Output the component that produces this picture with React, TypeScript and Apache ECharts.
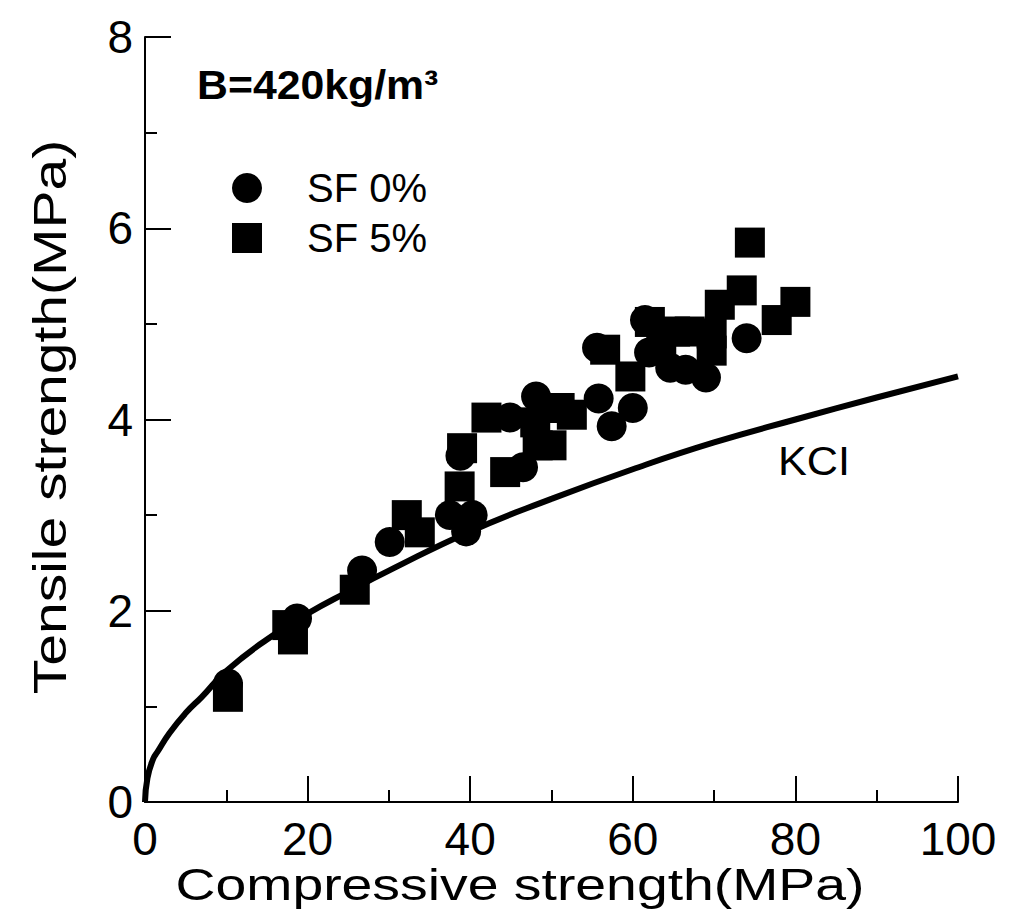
import React, { useEffect, useRef } from "react";
import * as echarts from "echarts";

const xTicks = [0, 20, 40, 60, 80, 100];
const yTicks = [0, 2, 4, 6, 8];

// SF 0% (circles)
const sf0: [number, number][] = [
  [10.2, 1.24], [18.7, 1.92], [26.7, 2.42], [30.1, 2.72], [37.5, 3.0],
  [39.5, 2.83], [40.3, 3.0], [38.8, 3.62], [44.9, 4.02], [46.5, 3.5],
  [48.1, 4.24], [55.8, 4.22], [55.6, 4.75], [57.4, 3.93], [60.0, 4.12],
  [61.5, 5.04], [62.0, 4.7], [64.6, 4.54], [66.5, 4.52], [69.0, 4.44],
  [74.0, 4.85],
];

// SF 5% (squares)
const sf5: [number, number][] = [
  [10.2, 1.1], [17.5, 1.85], [18.2, 1.7], [25.8, 2.22], [32.2, 3.0],
  [33.8, 2.82], [38.7, 3.3], [39.0, 3.7], [42.0, 4.02], [44.3, 3.45],
  [48.0, 3.97], [48.3, 3.73], [50.0, 3.73], [51.0, 4.12], [52.5, 4.05],
  [56.6, 4.73], [59.7, 4.45], [62.1, 5.02], [63.5, 4.75], [65.2, 4.92],
  [67.0, 4.92], [69.7, 4.9], [69.7, 4.72], [70.7, 5.2], [73.4, 5.35],
  [74.4, 5.85], [77.7, 5.04], [80.0, 5.23],
];

// KCI curve
const kci: [number, number][] = [
  [0, 0], [0.3, 0.25], [1.0, 0.45], [1.5, 0.52], [3, 0.72], [5, 0.93], [7, 1.1],
  [10, 1.37], [15, 1.7], [20, 1.97], [25, 2.2], [30, 2.42], [40, 2.83],
  [50, 3.17], [60, 3.48], [70, 3.76], [80, 4.0], [90, 4.23], [100, 4.45],
];

const FONT = "'Liberation Sans', Arial, sans-serif";

export default function App() {
  const ref = useRef<HTMLDivElement>(null);
  useEffect(() => {
    if (!ref.current) return;
    const chart = echarts.init(ref.current, null, { renderer: "svg" });
    const axisCommon = {
      axisLine: { show: true, lineStyle: { color: "#000", width: 2 } },
      axisTick: { show: true, inside: true, length: 26, lineStyle: { color: "#000", width: 2 } },
      minorTick: { show: true, splitNumber: 2, length: 12, lineStyle: { color: "#000", width: 2 } },
      splitLine: { show: false },
      minorSplitLine: { show: false },
    };
    chart.setOption({
      animation: false,
      backgroundColor: "#fff",
      grid: { left: 145, right: 57, top: 37, bottom: 114, containLabel: false },
      xAxis: {
        type: "value",
        min: 0,
        max: 100,
        interval: 20,
        ...axisCommon,
        axisLabel: {
          fontSize: 46,
          color: "#000",
          fontFamily: FONT,
          margin: 14,
          formatter: (v: number) => (xTicks.includes(v) ? String(v) : ""),
        },
      },
      yAxis: {
        type: "value",
        min: 0,
        max: 8,
        interval: 2,
        ...axisCommon,
        axisLabel: {
          fontSize: 46,
          color: "#000",
          fontFamily: FONT,
          margin: 12,
          formatter: (v: number) => (yTicks.includes(v) ? String(v) : ""),
        },
      },
      legend: {
        data: ["SF 0%", "SF 5%"],
        orient: "vertical",
        left: 227,
        top: 163,
        itemWidth: 30,
        itemHeight: 30,
        itemGap: 10,
        itemStyle: { opacity: 1 },
        textStyle: {
          fontSize: 40,
          lineHeight: 40,
          color: "#000",
          fontFamily: FONT,
          rich: { t: { fontSize: 40, lineHeight: 40, fontFamily: FONT, color: "#000", padding: [0, 0, 0, 40] } },
        },
        formatter: (name: string) => "{t|" + name + "}",
      },
      graphic: [
        {
          type: "text",
          x: 197,
          y: 85,
          scaleX: 1.07,
          style: {
            text: "B=420kg/m³",
            fontSize: 40,
            fontWeight: "bold",
            fontFamily: FONT,
            fill: "#000",
            textAlign: "left",
            textVerticalAlign: "middle",
          },
        },
        {
          type: "text",
          x: 778,
          y: 461,
          scaleX: 1.08,
          style: {
            text: "KCI",
            fontSize: 40,
            fontFamily: FONT,
            fill: "#000",
            textAlign: "left",
            textVerticalAlign: "middle",
          },
        },
        {
          type: "text",
          x: 520,
          y: 884,
          scaleX: 1.23,
          style: {
            text: "Compressive strength(MPa)",
            fontSize: 45,
            fontFamily: FONT,
            fill: "#000",
            textAlign: "center",
            textVerticalAlign: "middle",
          },
        },
        {
          type: "text",
          x: 50,
          y: 417,
          rotation: Math.PI / 2,
          scaleX: 1.24,
          style: {
            text: "Tensile strength(MPa)",
            fontSize: 46,
            fontFamily: FONT,
            fill: "#000",
            textAlign: "center",
            textVerticalAlign: "middle",
          },
        },
      ],
      series: [
        {
          name: "KCI",
          type: "line",
          data: kci,
          smooth: true,
          showSymbol: false,
          lineStyle: { color: "#000", width: 6 },
          z: 3,
        },
        {
          name: "SF 0%",
          type: "scatter",
          data: sf0,
          symbol: "circle",
          symbolSize: 30,
          itemStyle: { color: "#000", opacity: 1 },
          z: 4,
        },
        {
          name: "SF 5%",
          type: "scatter",
          data: sf5,
          symbol: "rect",
          symbolSize: 30,
          itemStyle: { color: "#000", opacity: 1 },
          z: 4,
        },
      ],
    });
    return () => chart.dispose();
  }, []);
  return (
    <div
      ref={ref}
      style={{ position: "absolute", left: 0, top: 0, width: 1015, height: 916 }}
    />
  );
}
